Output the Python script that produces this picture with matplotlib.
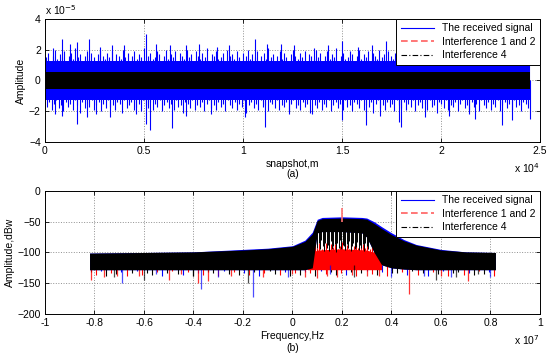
import numpy as np
import matplotlib
matplotlib.use("Agg")
import matplotlib.pyplot as plt
from matplotlib.lines import Line2D

plt.rcParams['font.family'] = ['Liberation Sans', 'DejaVu Sans']
plt.rcParams['font.size'] = 7.5

# ---------------- data: panel (a) (x in 1e4 snapshots, y in 1e-5) ----------------
snap_end = 2.45
black_band = 0.55
blue_core = 1.25
spike_up_x = [0.04, 0.085, 0.125, 0.16, 0.22, 0.28, 0.34, 0.40, 0.51, 0.56, 0.63, 0.71, 0.78,
              0.87, 0.93, 1.06, 1.12, 1.19, 1.26, 1.36, 1.43, 1.50, 1.58, 1.65, 1.72, 1.78,
              1.85, 1.95, 2.05, 2.15, 2.25, 2.35, 2.42]
spike_up_y = [2.1, 2.7, 2.4, 2.5, 2.7, 2.2, 2.3, 2.3, 3.0, 2.4, 2.3, 2.3, 2.4,
              2.2, 2.3, 2.7, 2.4, 2.4, 2.3, 2.1, 2.3, 2.6, 2.2, 2.3, 2.6, 2.2,
              2.1, 2.3, 2.2, 2.4, 2.2, 2.3, 2.1]
spike_dn_x = [0.05, 0.085, 0.16, 0.21, 0.26, 0.33, 0.46, 0.51, 0.53, 0.64, 0.71, 0.84, 1.01,
              1.11, 1.23, 1.35, 1.50, 1.62, 1.69, 1.79, 1.80, 1.92, 2.04, 2.14, 2.17, 2.31,
              2.36, 2.45]
spike_dn_y = [-2.2, -2.3, -2.8, -2.4, -2.2, -2.4, -2.2, -2.8, -3.2, -3.1, -2.3, -2.2, -2.4,
              -3.0, -2.2, -2.2, -2.6, -2.9, -2.3, -2.7, -3.0, -2.4, -2.3, -2.2, -2.5, -2.9,
              -2.6, -2.5]
tex_up = [1.5, 1.8, 1.3, 1.6, 2.0, 1.4, 1.7, 1.5, 1.9, 1.3, 1.6, 1.8, 1.4, 2.1, 1.5, 1.7, 1.3, 1.6,
          1.9, 1.4, 1.8, 1.5, 1.3, 1.7, 2.0, 1.6, 1.4, 1.8, 1.5, 1.9, 1.3, 1.7, 1.6, 1.4, 2.0, 1.5,
          1.8, 1.3, 1.6, 1.9, 1.4, 1.7, 1.5, 2.1, 1.3, 1.6, 1.8, 1.4, 1.5, 1.9, 1.7, 1.3, 1.6, 2.0,
          1.4, 1.7, 1.5, 1.9, 1.3, 1.8, 1.6, 1.4, 2.0, 1.5, 1.7, 1.3, 1.9, 1.6, 1.4, 1.8, 1.5, 2.1,
          1.3, 1.7, 1.6, 1.9, 1.4, 1.5, 1.8, 1.3, 2.0, 1.6, 1.7, 1.4, 1.9, 1.5, 1.3, 1.8, 1.6, 2.0,
          1.4, 1.7, 1.5, 1.9, 1.3, 1.6, 1.8, 1.4, 2.1, 1.5, 1.7, 1.3, 1.6, 1.9, 1.4, 1.8, 1.5, 1.3,
          1.7, 2.0, 1.6, 1.4, 1.8, 1.5, 1.9, 1.3, 1.7, 1.6, 1.4, 2.0, 1.5, 1.8, 1.3, 1.6, 1.9, 1.4,
          1.7, 1.5, 2.1, 1.3, 1.6, 1.8, 1.4, 1.5, 1.9, 1.7, 1.3, 1.6, 2.0, 1.4, 1.7, 1.5, 1.9, 1.3,
          1.8, 1.6, 1.4, 2.0, 1.5, 1.7, 1.3, 1.9, 1.6, 1.4, 1.8, 1.5, 2.1, 1.3, 1.7, 1.6, 1.9, 1.4,
          1.5, 1.8, 1.3, 2.0, 1.6, 1.7, 1.4, 1.9, 1.5, 1.3, 1.8, 1.6, 2.0, 1.4, 1.7, 1.5, 1.9, 1.3,
          1.6, 1.8, 1.4, 2.1, 1.5, 1.7, 1.3, 1.6, 1.9, 1.4, 1.8, 1.5, 1.3, 1.7, 2.0, 1.6, 1.4, 1.8,
          1.5, 1.9, 1.3, 1.7, 1.6, 1.4, 2.0, 1.5, 1.8, 1.3, 1.6, 1.9, 1.4, 1.7, 1.5, 1.8]
tex_dn = [-1.7, -1.4, -1.9, -1.5, -1.3, -1.8, -1.6, -2.0, -1.4, -1.7, -1.5, -1.9, -1.3, -1.6,
          -2.1, -1.4, -1.8, -1.5, -1.7, -1.3, -1.9, -1.6, -1.4, -2.0, -1.5, -1.8, -1.3, -1.7,
          -1.6, -1.9, -1.4, -1.5, -2.1, -1.3, -1.8, -1.6, -1.4, -1.9, -1.7, -1.5, -2.0, -1.3,
          -1.6, -1.8, -1.4, -1.9, -1.5, -1.7, -1.3, -2.0, -1.6, -1.4, -1.8, -1.5, -1.9, -1.3,
          -1.7, -1.6, -2.1, -1.4, -1.5, -1.8, -1.3, -1.9, -1.6, -1.7, -1.4, -2.0, -1.5, -1.3,
          -1.8, -1.6, -1.9, -1.4, -1.7, -1.5, -2.0, -1.3, -1.6, -1.8, -1.4, -1.9, -1.5, -1.7,
          -1.3, -2.1, -1.6, -1.4, -1.8, -1.5, -1.9, -1.3, -1.7, -1.6, -2.0, -1.4, -1.5, -1.8,
          -1.3, -1.9, -1.6, -1.7, -1.4, -2.0, -1.5, -1.3, -1.8, -1.6, -1.9, -1.4, -1.7, -1.5,
          -2.1, -1.3, -1.6, -1.8, -1.4, -1.9, -1.5, -1.7, -1.3, -2.0, -1.6, -1.4, -1.8, -1.5,
          -1.9, -1.3, -1.7, -1.6, -2.0, -1.4, -1.5, -1.8, -1.3, -1.9, -1.6, -1.7, -1.4, -2.1,
          -1.5, -1.3, -1.8, -1.6, -1.9, -1.4, -1.7, -1.5, -2.0, -1.3, -1.6, -1.8, -1.4, -1.9,
          -1.5, -1.7, -1.3, -2.0, -1.6, -1.4, -1.8, -1.5, -1.9, -1.3, -1.7, -1.6, -2.1, -1.4,
          -1.5, -1.8, -1.3, -1.9, -1.6, -1.7, -1.4, -2.0, -1.5, -1.3, -1.8, -1.6, -1.9, -1.4,
          -1.7, -1.5, -2.0, -1.3, -1.6, -1.8, -1.4, -1.9, -1.5, -1.7, -1.3, -2.0, -1.6, -1.4,
          -1.8, -1.5, -1.9, -1.3, -1.7, -1.6, -2.0, -1.4, -1.5, -1.8]

# ---------------- data: panel (b) (x in 1e7 Hz, y in dBw) ----------------
f_env = [-0.82, -0.6, -0.4, -0.2, -0.1, 0.0, 0.05, 0.08, 0.10, 0.12, 0.20, 0.28, 0.30,
         0.33, 0.36, 0.40, 0.45, 0.50, 0.60, 0.70, 0.82]
black_top = [-101, -100, -99, -96, -94, -90, -82, -70, -48, -45, -44, -45, -46,
             -53, -61, -71, -81, -88, -96, -99, -100]
blue_top = [-101, -100, -99, -95, -93, -89, -80, -67, -46, -43, -42, -43, -44,
            -50, -58, -68, -79, -87, -95, -99, -100]
black_low = [-128, -128, -128, -128, -128, -128, -128, -125, -68, -66, -66, -68, -75,
             -100, -120, -125, -127, -128, -128, -128, -128]
red_f = [0.06, 0.08, 0.10, 0.15, 0.20, 0.25, 0.30, 0.33, 0.36]
red_top = [-112, -100, -96, -95, -94, -95, -96, -100, -112]
red_low = [-128, -128, -128, -128, -128, -128, -128, -128, -128]
red_peak_f, red_peak_v = 0.20, -28
red_sp_f = [-0.815, -0.76, -0.71, -0.62, -0.50, -0.45, -0.38, -0.34, -0.25, -0.12, 0.0,
            0.05, 0.10, 0.14, 0.18, 0.24, 0.30, 0.35, 0.47, 0.60, 0.71]
red_sp_v = [-145, -140, -138, -138, -145, -135, -150, -147, -138, -140, -135,
            -140, -142, -138, -140, -137, -139, -138, -168, -138, -147]
blue_sp_f = [-0.69, -0.55, -0.37, -0.30, -0.16, -0.02, 0.15, 0.40, 0.53, 0.64, 0.80]
blue_sp_v = [-150, -135, -160, -140, -173, -140, -135, -140, -138, -140, -140]
black_sp_f = [-0.72, -0.60, -0.40, -0.18, 0.25, 0.58, 0.66, 0.75]
black_sp_v = [-140, -145, -138, -150, -140, -145, -140, -135]
plateau_v = [-92, -85, -95, -80, -90, -98, -84, -93, -88, -97, -82, -94, -90, -86,
             -99, -84, -92, -80, -95, -88, -90, -96, -87, -93, -81, -97, -89, -85,
             -94, -91, -83, -96, -88, -92, -86, -98, -84, -90, -95, -82]
red_tex_v = [-88, -92, -85, -95, -90, -84, -93, -87, -91, -86, -94, -89, -83, -92,
             -88, -95, -86, -90, -84, -93, -89, -87, -92, -85, -94, -88, -90, -86]
band_tex = [-132, -136, -130, -138, -133, -135, -131, -139, -134, -130, -137, -133,
            -136, -131, -138, -134, -130, -135, -137, -132, -139, -133, -136, -131,
            -134, -138, -130, -135, -132, -137, -133, -136, -131, -139, -134, -130,
            -135, -137, -132, -138, -133, -136, -131, -134, -139, -130, -135, -132,
            -137, -133, -136, -131, -138, -134, -130, -135, -137, -132, -139, -133,
            -134, -131, -137, -130, -136, -133, -138, -132, -135, -130, -139, -134,
            -131, -136, -133, -137, -130, -135, -132, -138]
band_tex_col = ['k', 'r', 'b', 'k', 'r', 'k', 'b', 'r', 'k', 'b', 'r', 'k']

blue = (0, 0, 1)
fig = plt.figure(figsize=(5.5, 3.55), dpi=100)

# ================= panel (a) =================
ax1 = fig.add_axes([0.0818, 0.6, 0.9, 0.3465])
ax1.fill_between([0, snap_end], [-blue_core, -blue_core], [blue_core, blue_core],
                 color=blue, lw=0, zorder=2)
ax1.vlines(np.linspace(0.005, snap_end - 0.005, len(tex_up)), 0, tex_up,
           color=blue, lw=0.8, zorder=2)
ax1.vlines(np.linspace(0.01, snap_end - 0.01, len(tex_dn)), tex_dn, 0,
           color=blue, lw=0.8, zorder=2)
ax1.vlines(spike_up_x, 0, spike_up_y, color=blue, lw=0.8, zorder=2)
ax1.vlines(spike_dn_x, spike_dn_y, 0, color=blue, lw=0.8, zorder=2)
ax1.fill_between([0, snap_end], [-black_band, -black_band], [black_band, black_band],
                 color='k', lw=0, zorder=3)
ax1.set_xlim(0, 2.5)
ax1.set_ylim(-4, 4)
ax1.set_xticks([0, 0.5, 1, 1.5, 2, 2.5])
ax1.set_xticklabels(['0', '0.5', '1', '1.5', '2', '2.5'])
ax1.set_yticks([-4, -2, 0, 2, 4])
ax1.set_ylabel('Amplitude', labelpad=2)
ax1.set_xlabel('snapshot,m', labelpad=2)
ax1.text(0.5, -0.26, '(a)', transform=ax1.transAxes, ha='center', va='center')
ax1.text(0.0, 1.02, r'x 10$^{-5}$', transform=ax1.transAxes, ha='left', va='bottom')
ax1.text(1.0, -0.21, r'x 10$^{4}$', transform=ax1.transAxes, ha='right', va='center')

# ================= panel (b) =================
ax2 = fig.add_axes([0.0818, 0.1155, 0.9, 0.3465])
ft = np.linspace(-0.815, 0.815, len(band_tex))
ax2.fill_between(f_env, black_low, blue_top, color=blue, lw=0, zorder=2)
for i, (f, v) in enumerate(zip(ft, band_tex)):
    ax2.vlines(f, v, -120, color=band_tex_col[i % len(band_tex_col)], lw=0.8, zorder=2)
ax2.fill_between(red_f, red_low, red_top, color='r', lw=0, zorder=3)
ax2.vlines(np.linspace(0.09, 0.34, len(red_tex_v)), red_tex_v, -110, color='r', lw=0.8, zorder=3)
ax2.vlines(red_sp_f, red_sp_v, -120, color='r', lw=0.9, alpha=0.8, zorder=3)
ax2.vlines(blue_sp_f, blue_sp_v, -120, color=blue, lw=0.9, alpha=0.7, zorder=3)
ax2.fill_between(f_env, black_low, black_top, color='k', lw=0, zorder=4)
ax2.vlines(np.linspace(0.10, 0.31, len(plateau_v)), plateau_v, -60, color='k', lw=0.7, zorder=4)
ax2.vlines(black_sp_f, black_sp_v, -120, color='k', lw=0.9, alpha=0.7, zorder=4)
ax2.vlines([red_peak_f], [red_peak_v], -50, color='#ff7070', lw=1.2, zorder=5)
ax2.set_xlim(-1, 1)
ax2.set_ylim(-200, 0)
ax2.set_xticks(np.round(np.arange(-1, 1.01, 0.2), 1))
ax2.set_xticklabels(['-1', '-0.8', '-0.6', '-0.4', '-0.2', '0', '0.2', '0.4', '0.6', '0.8', '1'])
ax2.set_yticks([-200, -150, -100, -50, 0])
ax2.set_ylabel('Amplitude,dBw', labelpad=2)
ax2.set_xlabel('Frequency,Hz', labelpad=2)
ax2.text(0.5, -0.275, '(b)', transform=ax2.transAxes, ha='center', va='center')
ax2.text(1.0, -0.21, r'x 10$^{7}$', transform=ax2.transAxes, ha='right', va='center')

handles = [Line2D([], [], color=blue, lw=0.8),
           Line2D([], [], color='#ff6060', lw=1.2, ls=(0, (4, 2))),
           Line2D([], [], color='k', lw=0.8, ls=(0, (5, 2, 1, 2)))]
labels = ['The received signal', 'Interference 1 and 2', 'Interference 4']

for ax in (ax1, ax2):
    ax.grid(True, ls=':', color='#909090', lw=0.7)
    ax.set_axisbelow(True)
    ax.tick_params(direction='in', top=True, right=True, length=3, width=0.6, pad=3)
    for s in ax.spines.values():
        s.set_linewidth(0.7)
    leg = ax.legend(handles, labels, loc='upper right', bbox_to_anchor=(1.0, 1.0),
                    borderaxespad=0.0, fancybox=False, framealpha=1, edgecolor='k',
                    handlelength=3.2, labelspacing=0.35, borderpad=0.4, handletextpad=0.8)
    leg.get_frame().set_linewidth(0.7)
    leg.set_zorder(10)

fig.savefig('out.png', dpi=100)
